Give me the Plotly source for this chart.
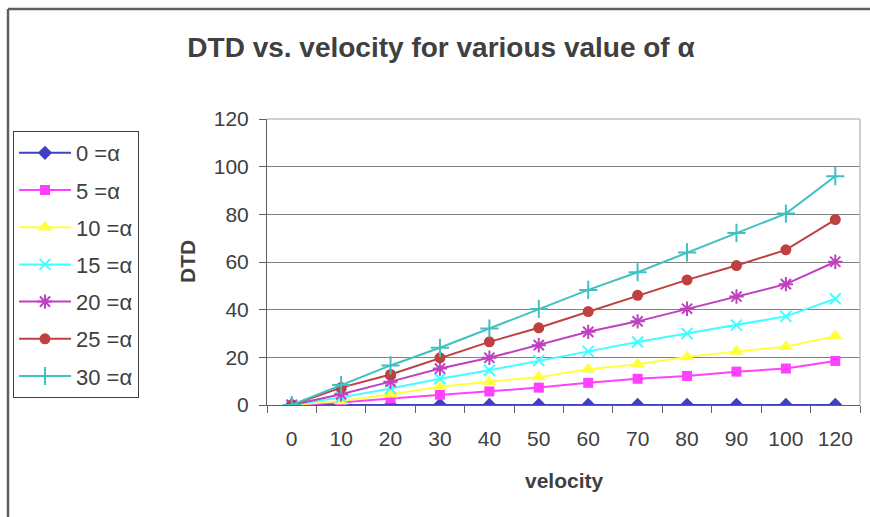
import plotly.graph_objects as go

velocity = ['0', '10', '20', '30', '40', '50', '60', '70', '80', '90', '100', '120']
alpha_labels = ['0 =α', '5 =α', '10 =α', '15 =α', '20 =α', '25 =α', '30 =α']
dtd_a0 = [0, 0, 0, 0, 0, 0, 0, 0, 0, 0, 0, 0]
dtd_a5 = [0, 1.0, 2.7, 4.3, 5.7, 7.3, 9.3, 11.0, 12.2, 14.0, 15.3, 18.5]
dtd_a10 = [0, 1.7, 4.5, 7.7, 9.8, 11.7, 15.0, 17.1, 20.1, 22.5, 24.4, 28.9]
dtd_a15 = [0, 3.2, 6.9, 11.0, 14.6, 18.7, 22.5, 26.4, 30.0, 33.5, 37.2, 44.6]
dtd_a20 = [0, 4.5, 9.8, 15.3, 19.8, 25.1, 30.7, 35.1, 40.4, 45.5, 50.7, 60.1]
dtd_a25 = [0, 7.3, 12.8, 19.8, 26.5, 32.4, 39.2, 46.0, 52.5, 58.5, 65.1, 77.8]
dtd_a30 = [0, 8.4, 16.6, 24.0, 32.1, 40.3, 48.3, 55.7, 64.0, 72.2, 80.3, 96.0]

series = [dtd_a0, dtd_a5, dtd_a10, dtd_a15, dtd_a20, dtd_a25, dtd_a30]
colors = ['#4040C4', '#FF40FF', '#FFFF40', '#40FFFF', '#C040C0', '#C04040', '#40C0C0']
symbols = ['diamond', 'square', 'triangle-up', 'x-thin', 'asterisk', 'circle', 'cross-thin']
sizes = [11, 10, 13, 11, 12, 11, 13]

FONT = 'Liberation Sans, Arial, sans-serif'
TXT = '#404040'

fig = go.Figure()
for i, (vals, name) in enumerate(zip(series, alpha_labels)):
    fig.add_trace(go.Scatter(
        x=velocity, y=vals, name=name, mode='lines+markers',
        legendgroup='g%d' % i,
        line=dict(color=colors[i], width=2),
        marker=dict(symbol=symbols[i], size=sizes[i], color=colors[i],
                    line=dict(color=colors[i], width=2 if symbols[i] in ('x-thin', 'asterisk', 'cross-thin') else 0)),
    ))

W, H = 870, 517
L, R, T, B = 267, 10, 119, 112
pw, ph = W - L - R, H - T - B

def px(x):
    return (x - L) / pw

def py(y):
    return (H - B - y) / ph

fig.update_layout(
    width=W, height=H,
    margin=dict(l=L, r=R, t=T, b=B),
    paper_bgcolor='white', plot_bgcolor='white',
    font=dict(family=FONT, color=TXT, size=21),
    showlegend=True,
    title=dict(text='<b>DTD vs. velocity for various value of α</b>',
               font=dict(family=FONT, size=28, color=TXT),
               x=px(441), xref='paper', xanchor='center',
               y=1 - 47 / H, yref='container', yanchor='middle'),
    legend=dict(x=px(13), y=py(131), xanchor='left', yanchor='top',
                bordercolor='#404040', borderwidth=1, bgcolor='white',
                font=dict(size=22, color=TXT, family=FONT),
                tracegroupgap=5.6, itemwidth=52, traceorder='grouped'),
    xaxis=dict(type='category', range=[-0.5, 11.5], showgrid=False, showline=True,
               linecolor='#606060', linewidth=1,
               ticks='outside', tickson='boundaries', ticklen=7, tickcolor='#606060',
               tickfont=dict(size=21, color=TXT), ticklabelstandoff=15, zeroline=False),
    yaxis=dict(range=[0, 120], tickvals=[0, 20, 40, 60, 80, 100, 120], showgrid=True,
               gridcolor='#808080', gridwidth=1, showline=True, linecolor='#606060', linewidth=1,
               ticks='outside', ticklen=7, tickcolor='#606060', zeroline=False,
               tickfont=dict(size=21, color=TXT), ticklabelstandoff=6),
    annotations=[
        dict(text='<b>DTD</b>', x=px(187), y=py(262), xref='paper', yref='paper',
             xanchor='center', yanchor='middle',
             showarrow=False, textangle=-90, font=dict(size=21, color=TXT, family=FONT)),
        dict(text='<b>velocity</b>', x=px(564), y=py(480), xref='paper', yref='paper',
             xanchor='center', yanchor='middle',
             showarrow=False, font=dict(size=21, color=TXT, family=FONT)),
    ],
    shapes=[
        dict(type='line', xref='paper', yref='paper', x0=0, x1=1, y0=1, y1=1,
             line=dict(color='#C0C0C0', width=1.5), layer='above'),
        dict(type='line', xref='paper', yref='paper', x0=1, x1=1, y0=0, y1=1,
             line=dict(color='#C0C0C0', width=1.5), layer='above'),
        dict(type='line', xref='paper', yref='paper', x0=px(8), x1=px(872), y0=py(9), y1=py(9),
             line=dict(color='#606060', width=2.5)),
        dict(type='line', xref='paper', yref='paper', x0=px(8), x1=px(8), y0=py(9), y1=py(520),
             line=dict(color='#606060', width=2.5)),
    ],
)

fig.write_html('out.html')
